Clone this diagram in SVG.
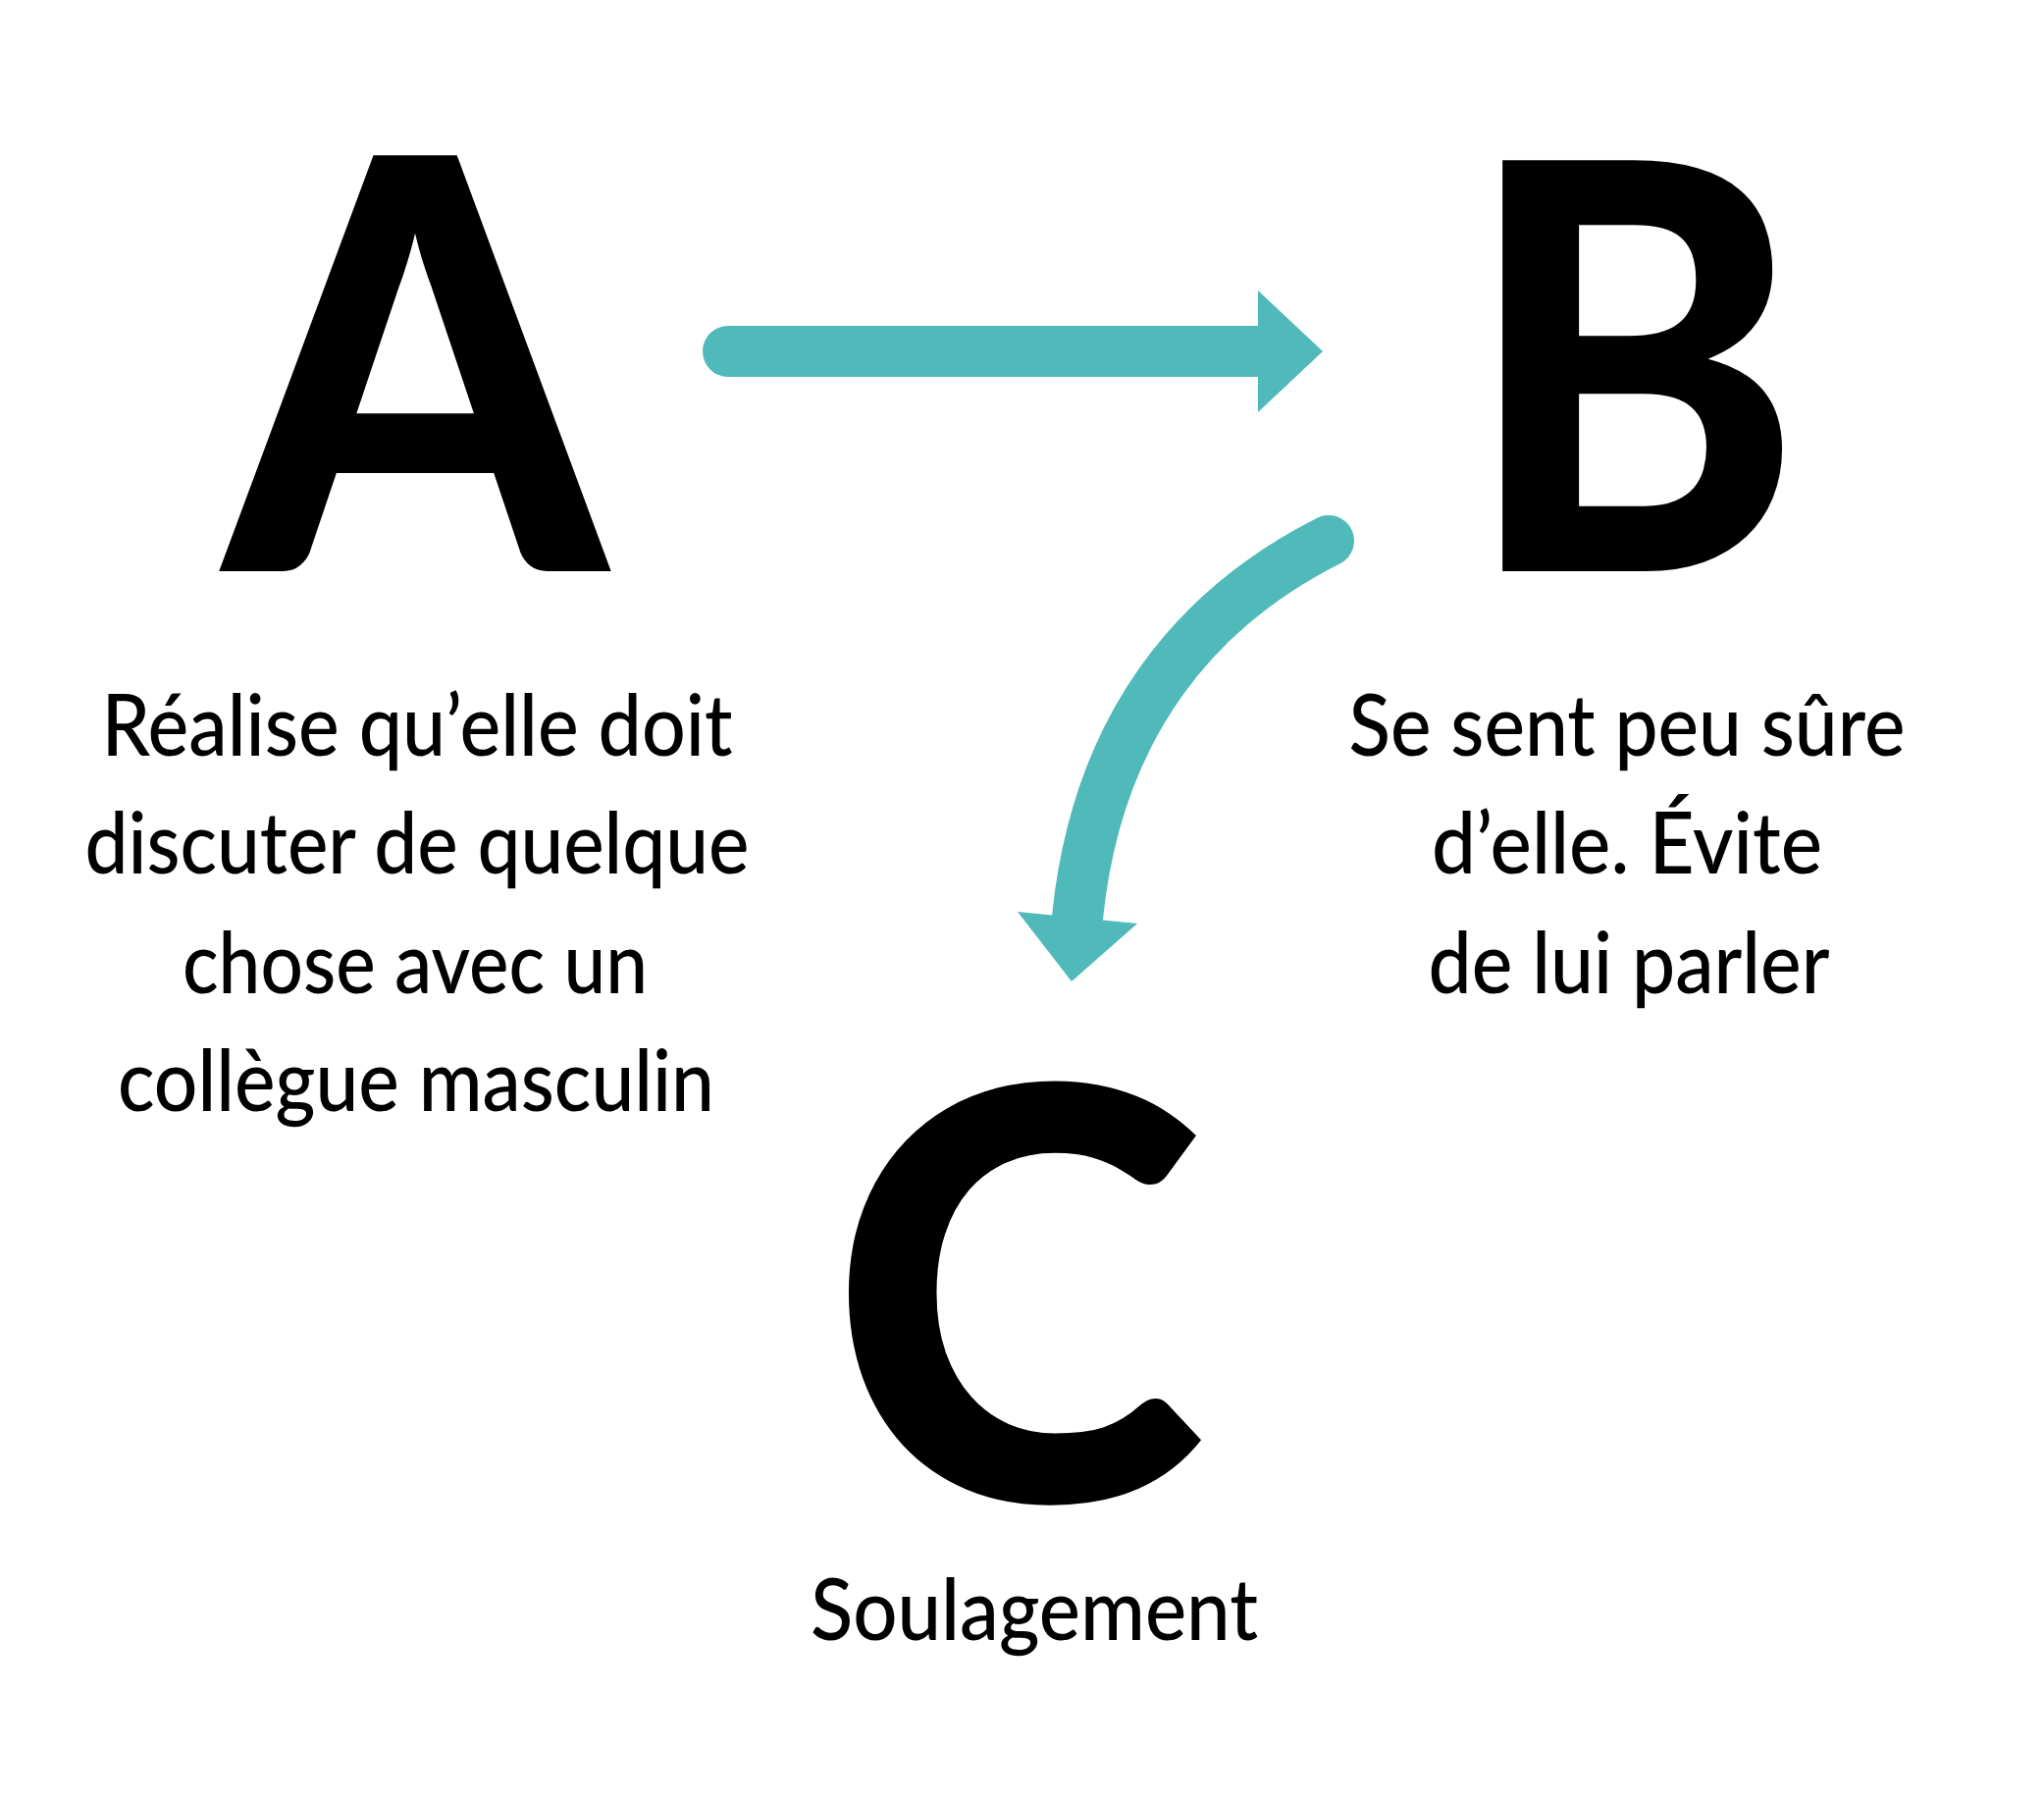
<svg xmlns="http://www.w3.org/2000/svg" width="2083" height="1832" viewBox="0 0 2083 1832">
<style>
.big{font-family:Lato,"Noto Sans",sans-serif;font-weight:900;fill:#000;text-anchor:middle}
.lbl{font-family:Lato,"Noto Sans",sans-serif;font-weight:500;font-size:87px;fill:#000;text-anchor:middle}
.conn{fill:none;stroke:#50B9BA;stroke-width:52;stroke-linecap:round}
.head{fill:#50B9BA}
</style>
<rect width="2083" height="1832" fill="#fff"/>
<g id="node-A">
<text class="big" transform="translate(423,582) scale(0.95,1)" x="0" y="0" font-size="584">A</text>
<text class="lbl" x="425" y="770" textLength="643" lengthAdjust="spacingAndGlyphs">Réalise qu’elle doit</text>
<text class="lbl" x="425" y="890" textLength="677" lengthAdjust="spacingAndGlyphs">discuter de quelque</text>
<text class="lbl" x="423" y="1012" textLength="474" lengthAdjust="spacingAndGlyphs">chose avec un</text>
<text class="lbl" x="424" y="1132" textLength="608" lengthAdjust="spacingAndGlyphs">collègue masculin</text>
</g>
<g id="node-B">
<text class="big" transform="translate(1664,582) scale(0.9,1)" x="0" y="0" font-size="577">B</text>
<text class="lbl" x="1658" y="770" textLength="567" lengthAdjust="spacingAndGlyphs">Se sent peu sûre</text>
<text class="lbl" x="1658" y="890" textLength="398" lengthAdjust="spacingAndGlyphs">d’elle. Évite</text>
<text class="lbl" x="1660" y="1012" textLength="409" lengthAdjust="spacingAndGlyphs">de lui parler</text>
</g>
<g id="node-C">
<text class="big" x="1037" y="1529" font-size="583">C</text>
<text class="lbl" x="1054" y="1671" textLength="456" lengthAdjust="spacingAndGlyphs">Soulagement</text>
</g>
<g id="connectors">
<path class="conn" d="M742 358 L1285 358"/>
<polygon class="head" points="1282,296 1348,358 1282,420"/>
<path class="conn" d="M1354 551 C1221 618 1118 737 1098 935"/>
<polygon class="head" points="1037,929 1092,1000 1159,941"/>
</g>
</svg>
